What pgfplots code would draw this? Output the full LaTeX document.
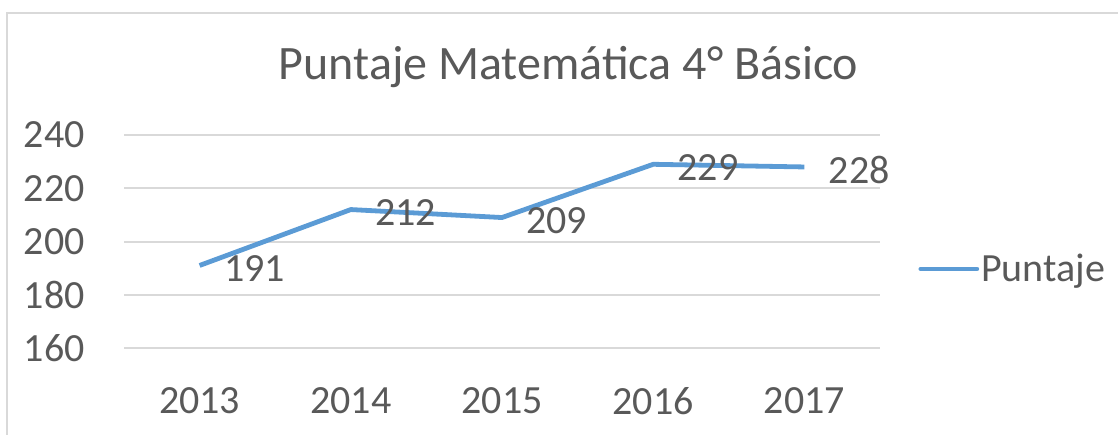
\documentclass[border=0pt]{standalone}
\usepackage{pgfplots}
\pgfplotsset{compat=1.18}
\usepackage{fontspec}
\setmainfont{Carlito}
\definecolor{linecol}{HTML}{5B9BD5}
\definecolor{txtcol}{HTML}{595959}
\definecolor{gridcol}{HTML}{D9D9D9}
\begin{document}
\begin{tikzpicture}
\useasboundingbox (0,0) rectangle (559pt,217pt);
\draw[gridcol, line width=0.75pt] (3.5pt,-5pt) -- (3.5pt,210.5pt) -- (570pt,210.5pt);
\node[anchor=base, text=txtcol, font=\fontsize{24}{28}\selectfont, inner sep=0pt] at (284.25pt,177pt) {Puntaje Matemática 4° Básico};
\begin{axis}[
  at={(62pt,43pt)}, anchor=south west,
  scale only axis, width=378pt, height=106.5pt,
  xmin=-0.5, xmax=4.5, ymin=160, ymax=240,
  ytick={160,180,200,220,240},
  xtick={0,1,2,3,4},
  xticklabels={2013,2014,2015,2016,2017},
  axis line style={draw=none},
  major tick style={draw=none},
  ymajorgrids,
  grid style={gridcol, line width=1pt},
  tick label style={font=\fontsize{20}{24}\selectfont, text=txtcol},
  /pgf/number format/assume math mode=true,
  yticklabel style={anchor=east, inner sep=0pt, xshift=-19.5pt},
  xticklabel style={anchor=north, inner sep=0pt, yshift=-19.5pt},
  nodes near coords,
  every node near coord/.append style={anchor=west, inner sep=0pt, xshift=11pt, yshift=-1.5pt, font=\fontsize{20}{24}\selectfont, text=txtcol},
  legend style={at={(rel axis cs:1.0503,0.371)}, anchor=west, draw=none, fill=none, inner sep=0pt, font=\fontsize{20}{24}\selectfont, text=txtcol,
    nodes={inner sep=0pt}},
  legend image code/.code={\draw[linecol, line width=2.4pt, line cap=round] (0pt,0pt) -- (28pt,0pt);},
  legend cell align=left,
  clip=false,
]
\addplot[linecol, line width=2.4pt, line join=round] coordinates {(0,191) (1,212) (2,209) (3,229) (4,228)};
\addlegendentry{\hspace{1pt}Puntaje}
\end{axis}
\end{tikzpicture}
\end{document}
